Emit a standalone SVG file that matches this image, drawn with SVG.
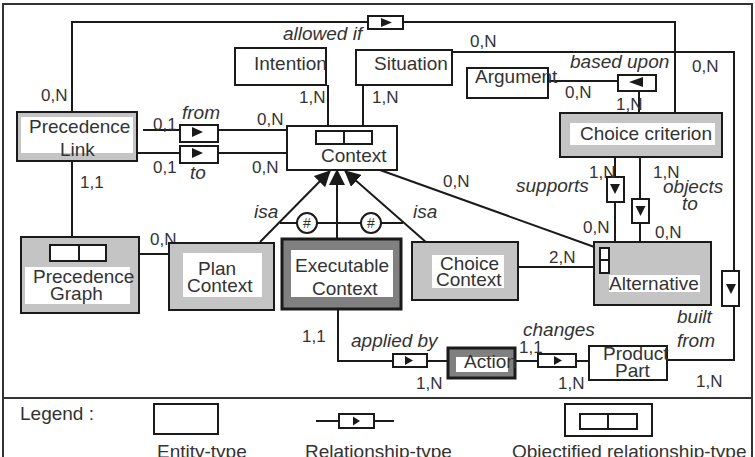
<svg xmlns="http://www.w3.org/2000/svg" width="755" height="457" viewBox="0 0 755 457">
<defs>
<style>
.ln{fill:none;stroke:#1a1a1a;stroke-width:2}
.fr{fill:none;stroke:#333;stroke-width:2}
.ent{fill:#fff;stroke:#1a1a1a;stroke-width:2}
.gr{fill:#c4c4c4;stroke:#1a1a1a;stroke-width:2}
.dk{fill:#808080;stroke:#1a1a1a;stroke-width:3}
.in{fill:#fff;stroke:none}
.rel{fill:#fff;stroke:#1a1a1a;stroke-width:2}
.tri{fill:#1a1a1a;stroke:none}
.obj{fill:#fff;stroke:#1a1a1a;stroke-width:2}
text{font-family:"Liberation Sans",Arial,sans-serif;fill:#333}
.t{font-size:19px}
.c{font-size:17px}
.i{font-size:19px;font-style:italic}
.h{font-size:14px;text-anchor:middle}
</style>
<marker id="ah" markerUnits="userSpaceOnUse" markerWidth="16" markerHeight="16" viewBox="0 0 16 16" refX="15" refY="8" orient="auto"><path d="M0,0 L16,8 L0,16 z" fill="#1a1a1a"/></marker>
</defs>

<rect class="fr" x="3" y="4" width="749" height="470"/>
<line class="fr" x1="3" y1="398" x2="752" y2="398"/>

<g id="connectors">
  <!-- allowed if -->
  <polyline class="ln" points="72,112 72,22 675,22 675,113"/>
  <rect class="rel" x="368" y="16" width="35" height="13"/>
  <path class="tri" d="M381,18 L392,22.5 L381,27 z"/>
  <text class="i" x="283" y="40">allowed if</text>
  <text class="c" x="41" y="101">0,N</text>
  <text class="c" x="692" y="72">0,N</text>

  <!-- Situation built from Product Part -->
  <polyline class="ln" points="452,52 734,52 734,360 667,360"/>
  <rect class="rel" x="722" y="271" width="17" height="35"/>
  <path class="tri" d="M726,284 L736,284 L731,294 z"/>
  <text class="c" x="470" y="47">0,N</text>
  <text class="i" x="677" y="323">built</text>
  <text class="i" x="677" y="347">from</text>
  <text class="c" x="696" y="387">1,N</text>

  <!-- from -->
  <line class="ln" x1="143" y1="130" x2="287" y2="130"/>
  <rect class="rel" x="180" y="125" width="38" height="17"/>
  <path class="tri" d="M192,127 L203,132 L192,137 z"/>
  <text class="i" x="182" y="119">from</text>
  <text class="c" x="153" y="130">0,1</text>
  <text class="c" x="257" y="125">0,N</text>

  <!-- to -->
  <line class="ln" x1="137" y1="153" x2="287" y2="153"/>
  <rect class="rel" x="180" y="146" width="38" height="17"/>
  <path class="tri" d="M192,148 L203,153 L192,158 z"/>
  <text class="i" x="190" y="179">to</text>
  <text class="c" x="153" y="173">0,1</text>
  <text class="c" x="252" y="173">0,N</text>

  <!-- Intention / Situation to Context -->
  <line class="ln" x1="328" y1="85" x2="328" y2="131"/>
  <line class="ln" x1="363" y1="85" x2="363" y2="131"/>
  <text class="c" x="299" y="103">1,N</text>
  <text class="c" x="372" y="103">1,N</text>

  <!-- based upon -->
  <line class="ln" x1="545" y1="81" x2="618" y2="81"/>
  <rect class="rel" x="618" y="75" width="38" height="16"/>
  <path class="tri" d="M629,82 L643,77 L643,87 z"/>
  <line class="ln" x1="639" y1="91" x2="639" y2="113"/>
  <text class="i" x="570" y="68">based upon</text>
  <text class="c" x="565" y="98">0,N</text>
  <text class="c" x="616" y="110">1,N</text>

  <!-- Precedence Link to Precedence Graph -->
  <line class="ln" x1="72" y1="161" x2="72" y2="245"/>
  <text class="c" x="80" y="188">1,1</text>

  <!-- Precedence Graph to Plan Context -->
  <line class="ln" x1="106" y1="254" x2="169" y2="254"/>
  <text class="c" x="150" y="245">0,N</text>

  <!-- isa -->
  <line class="ln" x1="260" y1="242" x2="330" y2="171" marker-end="url(#ah)"/>
  <line class="ln" x1="337" y1="239" x2="337" y2="170" marker-end="url(#ah)"/>
  <line class="ln" x1="427" y1="243" x2="345" y2="171" marker-end="url(#ah)"/>
  <line class="ln" x1="280" y1="223" x2="403" y2="223"/>
  <circle class="ent" cx="307" cy="223" r="10"/>
  <circle class="ent" cx="371" cy="223" r="10"/>
  <text class="h" x="307" y="228">#</text>
  <text class="h" x="371" y="228">#</text>
  <text class="i" x="254" y="218">isa</text>
  <text class="i" x="413" y="218">isa</text>

  <!-- Context to Alternative -->
  <line class="ln" x1="380" y1="170" x2="600" y2="249"/>
  <text class="c" x="443" y="187">0,N</text>

  <!-- Choice Context to Alternative -->
  <line class="ln" x1="518" y1="267" x2="600" y2="267"/>
  <text class="c" x="549" y="263">2,N</text>

  <!-- supports -->
  <line class="ln" x1="615" y1="157" x2="615" y2="242"/>
  <rect class="rel" x="607" y="177" width="17" height="25"/>
  <path class="tri" d="M610,184 L620,184 L615,194 z"/>
  <text class="i" x="516" y="192">supports</text>
  <text class="c" x="589" y="178">1,N</text>
  <text class="c" x="583" y="233">0,N</text>

  <!-- objects to -->
  <line class="ln" x1="640" y1="157" x2="640" y2="242"/>
  <rect class="rel" x="632" y="199" width="17" height="24"/>
  <path class="tri" d="M635.5,206 L645.5,206 L640.5,216 z"/>
  <text class="i" x="663" y="193">objects</text>
  <text class="i" x="682" y="210">to</text>
  <text class="c" x="653" y="178">1,N</text>
  <text class="c" x="655" y="238">0,N</text>

  <!-- applied by -->
  <polyline class="ln" points="338,309 338,361 448,361"/>
  <rect class="rel" x="393" y="354" width="34" height="13"/>
  <path class="tri" d="M405,356 L413,360.5 L405,365 z"/>
  <text class="i" x="351" y="347">applied by</text>
  <text class="c" x="302" y="342">1,1</text>
  <text class="c" x="416" y="389">1,N</text>

  <!-- changes -->
  <line class="ln" x1="515" y1="361" x2="589" y2="361"/>
  <rect class="rel" x="538" y="354" width="38" height="13"/>
  <path class="tri" d="M554,356 L562,360.5 L554,365 z"/>
  <text class="i" x="523" y="336">changes</text>
  <text class="c" x="519" y="353">1,1</text>
  <text class="c" x="558" y="389">1,N</text>
</g>

<g id="intention">
  <rect class="ent" x="235" y="48" width="91" height="37"/>
  <text class="t" x="254" y="70">Intention</text>
</g>

<g id="situation">
  <rect class="ent" x="356" y="50" width="96" height="35"/>
  <text class="t" x="374" y="70">Situation</text>
</g>

<g id="argument">
  <rect class="ent" x="467" y="68" width="81" height="30"/>
  <text class="t" x="475" y="83">Argument</text>
</g>

<g id="context">
  <rect class="ent" x="287" y="126" width="110" height="44"/>
  <rect class="obj" x="316" y="131" width="56" height="13"/>
  <line class="ln" x1="344" y1="131" x2="344" y2="144"/>
  <text class="t" x="321" y="162">Context</text>
</g>

<g id="precedence-link">
  <rect class="gr" x="17" y="112" width="120" height="49"/>
  <rect class="in" x="21" y="117" width="112" height="36"/>
  <text class="t" x="29" y="133">Precedence</text>
  <text class="t" x="60" y="156">Link</text>
</g>

<g id="choice-criterion">
  <rect class="gr" x="560" y="113" width="162" height="44"/>
  <rect class="in" x="570" y="123" width="145" height="22"/>
  <text class="t" x="580" y="140">Choice criterion</text>
</g>

<g id="precedence-graph">
  <rect class="gr" x="21" y="237" width="118" height="76"/>
  <rect class="in" x="25" y="267" width="105" height="37"/>
  <rect class="obj" x="50" y="245" width="56" height="16"/>
  <line class="ln" x1="79" y1="245" x2="79" y2="261"/>
  <text class="t" x="33" y="283">Precedence</text>
  <text class="t" x="50" y="300">Graph</text>
</g>

<g id="plan-context">
  <rect class="gr" x="169" y="243" width="105" height="67"/>
  <rect class="in" x="183" y="253" width="79" height="44"/>
  <text class="t" x="198" y="275">Plan</text>
  <text class="t" x="187" y="292">Context</text>
</g>

<g id="executable-context">
  <rect class="dk" x="282" y="239" width="119" height="70"/>
  <rect class="in" x="291" y="250" width="102" height="47"/>
  <text class="t" x="295" y="272">Executable</text>
  <text class="t" x="312" y="295">Context</text>
</g>

<g id="choice-context">
  <rect class="gr" x="412" y="242" width="106" height="58"/>
  <rect class="in" x="432" y="255" width="72" height="33"/>
  <text class="t" x="440" y="270">Choice</text>
  <text class="t" x="436" y="286">Context</text>
</g>

<g id="alternative">
  <rect class="gr" x="594" y="242" width="117" height="63"/>
  <rect class="in" x="609" y="275" width="91" height="17"/>
  <rect class="obj" x="600" y="248" width="9" height="25"/>
  <line class="ln" x1="600" y1="260" x2="609" y2="260"/>
  <text class="t" x="609" y="290">Alternative</text>
</g>

<g id="action">
  <rect class="dk" x="448" y="348" width="67" height="30"/>
  <rect class="in" x="456" y="357" width="52" height="15"/>
  <text class="t" x="464" y="368">Action</text>
</g>

<g id="product-part">
  <rect class="ent" x="589" y="346" width="78" height="34"/>
  <text class="t" x="603" y="360">Product</text>
  <text class="t" x="615" y="377">Part</text>
</g>

<g id="legend">
  <text class="t" x="20" y="420">Legend :</text>
  <rect class="ent" x="154" y="404" width="64" height="30"/>
  <text class="t" x="157" y="458">Entity-type</text>
  <line class="ln" x1="316" y1="421" x2="394" y2="421"/>
  <rect class="rel" x="339" y="414" width="35" height="14"/>
  <path class="tri" d="M353,416.5 L360,421 L353,425.5 z"/>
  <text class="t" x="305" y="458">Relationship-type</text>
  <rect class="ent" x="565" y="404" width="87" height="32"/>
  <rect class="obj" x="580" y="414" width="57" height="15"/>
  <line class="ln" x1="608" y1="414" x2="608" y2="429"/>
  <text class="t" x="512" y="458">Objectified relationship-type</text>
</g>
</svg>
